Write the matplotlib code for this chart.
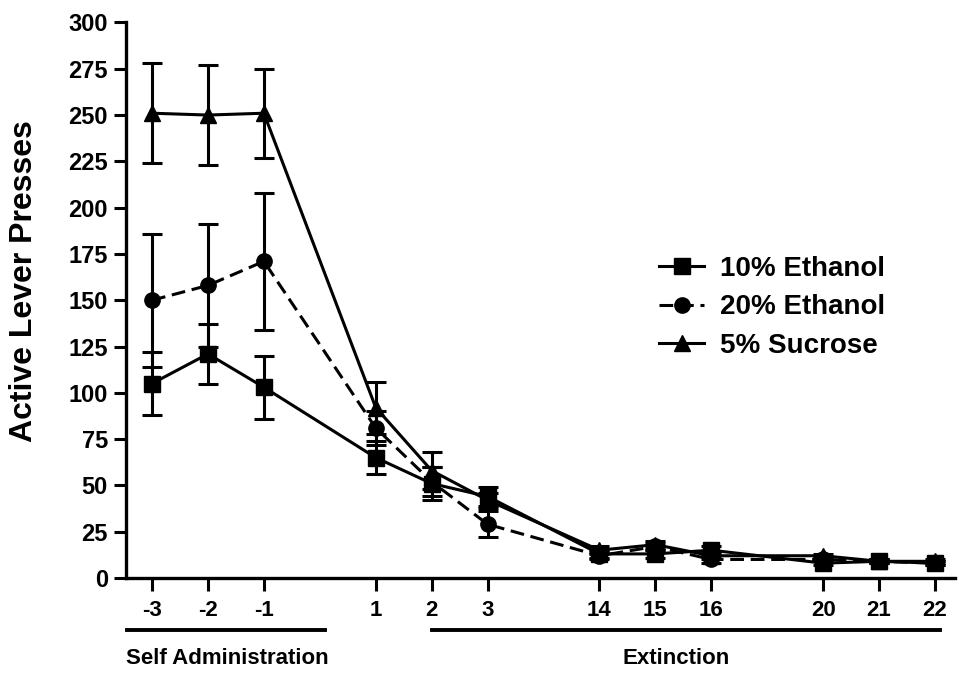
import matplotlib
matplotlib.use("Agg")
import matplotlib.pyplot as plt
import matplotlib.transforms as mtransforms

plt.rcParams['font.family'] = ['Liberation Sans', 'DejaVu Sans']
plt.rcParams['font.weight'] = 'bold'

# Data
days = ["-3", "-2", "-1", "1", "2", "3", "14", "15", "16", "20", "21", "22"]
positions = [0, 1, 2, 4, 5, 6, 8, 9, 10, 12, 13, 14]

eth10 = [105, 121, 103, 65, 51, 44, 13, 13, 15, 8, 9, 8]
eth10_err = [17, 16, 17, 9, 9, 5, 2, 2, 2, 1, 1, 1]

eth20 = [150, 158, 171, 81, 52, 29, 12, 17, 10, 10, 9, 8]
eth20_err = [36, 33, 37, 9, 8, 7, 2, 2, 2, 1, 1, 1]

suc5 = [251, 250, 251, 92, 58, 42, 15, 18, 12, 12, 9, 9]
suc5_err = [27, 27, 24, 14, 10, 4, 2, 2, 2, 1, 1, 1]

series_names = ["10% Ethanol", "20% Ethanol", "5% Sucrose"]
y_ticks = [0, 25, 50, 75, 100, 125, 150, 175, 200, 225, 250, 275, 300]

fig = plt.figure(figsize=(9.59, 6.73), dpi=100)
ax = fig.add_axes([0.1314, 0.1412, 0.8646, 0.8254])

common = dict(color='black', lw=2.2, elinewidth=2.2, capsize=7, capthick=2.2)
c_suc = ax.errorbar(positions, suc5, yerr=suc5_err, marker='^', ms=11, ls='-', **common)
c_20 = ax.errorbar(positions, eth20, yerr=eth20_err, marker='o', ms=11,
                   ls=(0, (4.5, 2.2)), **common)
c_10 = ax.errorbar(positions, eth10, yerr=eth10_err, marker='s', ms=11, ls='-', **common)

ax.set_xlim(-0.465, 14.36)
ax.set_ylim(0, 300)
ax.set_yticks(y_ticks)
ax.set_yticklabels([str(t) for t in y_ticks], fontsize=17, fontweight='bold')
ax.set_xticks(positions)
ax.set_xticklabels(days, fontsize=16, fontweight='bold')
ax.tick_params(axis='both', direction='out', length=9, width=2.2)
ax.tick_params(axis='x', pad=7)
ax.tick_params(axis='y', pad=4)
for s in ['top', 'right']:
    ax.spines[s].set_visible(False)
for s in ['left', 'bottom']:
    ax.spines[s].set_linewidth(2.4)

ax.set_ylabel("Active Lever Presses", fontsize=23, fontweight='bold')
ax.yaxis.set_label_coords(-0.105, 0.535)

# Legend: line+marker handles only
leg = ax.legend([c_10[0], c_20[0], c_suc[0]], series_names,
                loc='upper left', bbox_to_anchor=(0.613, 0.625), frameon=False,
                prop={'size': 20, 'weight': 'bold'}, handlelength=1.6,
                handletextpad=0.6, labelspacing=0.45)

# Phase annotations below the axis
trans = mtransforms.blended_transform_factory(ax.transData, ax.transAxes)
ax.plot([positions[0] - 0.45, positions[2] + 1.1], [-0.094, -0.094], color='black',
        lw=2.8, transform=trans, clip_on=False)
ax.plot([positions[4], positions[-1] + 0.09], [-0.094, -0.094], color='black',
        lw=2.8, transform=trans, clip_on=False)
ax.text(1.34, -0.145, "Self Administration", transform=trans, ha='center', va='center',
        fontsize=16, fontweight='bold')
ax.text(9.37, -0.145, "Extinction", transform=trans, ha='center', va='center',
        fontsize=16, fontweight='bold')

fig.savefig("out.png", dpi=100)
